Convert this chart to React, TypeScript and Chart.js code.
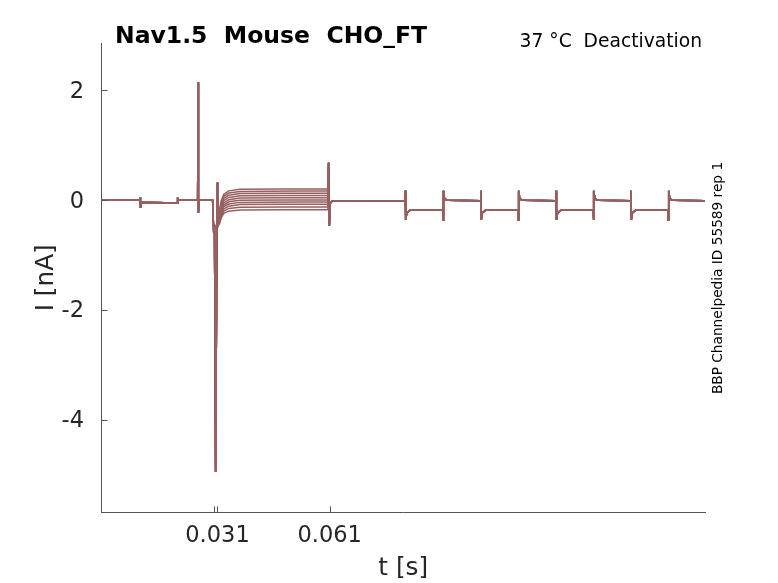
import React, { useEffect, useRef } from 'react';
import Chart from 'chart.js/auto';

// shared by every sweep: holding, prepulse artefacts and the activating step (t in s, I in nA)
const preTimes = [0, 0.0102, 0.0103, 0.0104, 0.0106, 0.0202, 0.0203, 0.0204, 0.0206, 0.0257, 0.0258, 0.0259, 0.0261, 0.0297, 0.03, 0.0302, 0.0305, 0.0308, 0.031, 0.0312];
const preCurrents = [0, 0, 0.05, -0.14, -0.04, -0.05, 0.05, -0.02, 0, 0, 2.15, -0.23, 0, 0, -0.6, -0.45, -4.95, -1.2, 0.32, -0.45];

// deactivation tails, one row per sweep
const tailTimes = [0.0315, 0.032, 0.0327, 0.034, 0.037, 0.0605];
const tailCurrents = [
  [-0.19, -0.01, 0.11, 0.17, 0.2, 0.21],
  [-0.23, -0.05, 0.07, 0.13, 0.16, 0.17],
  [-0.27, -0.09, 0.03, 0.09, 0.12, 0.13],
  [-0.3, -0.13, -0.01, 0.05, 0.08, 0.09],
  [-0.33, -0.16, -0.05, 0.01, 0.04, 0.05],
  [-0.36, -0.2, -0.09, -0.03, 0, 0.01],
  [-0.38, -0.23, -0.12, -0.07, -0.04, -0.03],
  [-0.4, -0.26, -0.16, -0.11, -0.08, -0.07],
  [-0.42, -0.29, -0.2, -0.15, -0.13, -0.12],
  [-0.44, -0.32, -0.24, -0.2, -0.18, -0.17],
];

// shared again: end-of-step artefact and the test pulse train
const postTimes = [
  0.0607, 0.0609, 0.0611, 0.0616, 0.0811,
  0.0812, 0.0813, 0.0816, 0.0825, 0.0912,
  0.0913, 0.0914, 0.0917, 0.0926, 0.1013,
  0.1014, 0.1015, 0.1018, 0.1027, 0.1113,
  0.1114, 0.1115, 0.1118, 0.1127, 0.1214,
  0.1215, 0.1216, 0.1219, 0.1228, 0.1314,
  0.1315, 0.1316, 0.1319, 0.1328, 0.1414,
  0.1415, 0.1416, 0.1419, 0.1428, 0.1514,
  0.1515, 0.1516, 0.1519, 0.1528, 0.1613,
];
const postCurrents = [
  0.68, -0.47, -0.06, -0.02, -0.01,
  0.17, -0.36, -0.23, -0.18, -0.17,
  -0.36, 0.17, 0.02, 0, -0.01,
  0.17, -0.36, -0.23, -0.18, -0.17,
  -0.36, 0.17, 0.02, 0, -0.01,
  0.17, -0.36, -0.23, -0.18, -0.17,
  -0.36, 0.17, 0.02, 0, -0.01,
  0.17, -0.36, -0.23, -0.18, -0.17,
  -0.36, 0.17, 0.02, 0, -0.01,
];

const xTickValues = [0.03, 0.031, 0.061];
const xTickLabels = ['', '0.031', '0.061'];
const yTickValues = [-4, -2, 0, 2];

const TRACE_COLOR = '#976060';
const AXIS_COLOR = '#555555';
const TEXT_COLOR = '#262626';
const FONT = 'DejaVu Sans';

const buildSweep = (tail: number[]) => [
  ...preTimes.map((t, i) => ({ x: t, y: preCurrents[i] })),
  ...tailTimes.map((t, i) => ({ x: t, y: tail[i] })),
  ...postTimes.map((t, i) => ({ x: t, y: postCurrents[i] })),
];

// inward tick marks plus the title texts, matlab style
const decorations = {
  id: 'decorations',
  afterDraw(chart: any) {
    const { ctx, chartArea, scales } = chart;
    ctx.save();
    ctx.strokeStyle = AXIS_COLOR;
    ctx.lineWidth = 1;
    ctx.beginPath();
    xTickValues.forEach((v) => {
      const px = Math.round(scales.x.getPixelForValue(v)) + 0.5;
      ctx.moveTo(px, chartArea.bottom);
      ctx.lineTo(px, chartArea.bottom - 6);
    });
    yTickValues.forEach((v) => {
      const py = Math.round(scales.y.getPixelForValue(v)) + 0.5;
      ctx.moveTo(chartArea.left, py);
      ctx.lineTo(chartArea.left + 6, py);
    });
    ctx.stroke();

    ctx.fillStyle = '#000';
    ctx.textBaseline = 'alphabetic';
    ctx.font = `bold 23.5px "${FONT}"`;
    ctx.textAlign = 'left';
    ctx.fillText('Nav1.5  Mouse  CHO_FT', 115, 42.7);
    ctx.font = `18.7px "${FONT}"`;
    ctx.textAlign = 'right';
    ctx.fillText('37 °C  Deactivation', 702, 47.3);

    ctx.translate(721.5, 278);
    ctx.rotate(-Math.PI / 2);
    ctx.font = `13.7px "${FONT}"`;
    ctx.textAlign = 'center';
    ctx.fillText('BBP Channelpedia ID 55589 rep 1', 0, 0);
    ctx.restore();
  },
};

const App: React.FC = () => {
  const chartRef = useRef<HTMLCanvasElement>(null);

  useEffect(() => {
    if (!chartRef.current) return;
    const ctx = chartRef.current.getContext('2d');
    if (!ctx) return;

    const myChart = new Chart(ctx, {
      type: 'line',
      data: {
        datasets: tailCurrents.map((tail, i) => ({
          label: `sweep ${i + 1}`,
          data: buildSweep(tail),
          borderColor: TRACE_COLOR,
          borderWidth: 1.5,
          pointRadius: 0,
          tension: 0,
          fill: false,
        })),
      },
      options: {
        animation: false,
        responsive: false,
        layout: { padding: { top: 43.3, right: 73, left: 0, bottom: 0 } },
        plugins: {
          legend: { display: false },
          tooltip: { enabled: false },
        },
        scales: {
          x: {
            type: 'linear',
            min: 0,
            max: 0.1613,
            afterBuildTicks: (scale: any) => {
              scale.ticks = xTickValues.map((v) => ({ value: v }));
            },
            afterFit: (scale: any) => {
              scale.height = 70.7;
            },
            grid: { display: false, drawTicks: false },
            border: { display: true, color: AXIS_COLOR, width: 1 },
            ticks: {
              autoSkip: false,
              maxRotation: 0,
              padding: 10,
              color: TEXT_COLOR,
              font: { family: FONT, size: 22.5 },
              callback: (_v: any, i: number) => xTickLabels[i],
            },
            title: {
              display: true,
              text: 't [s]',
              color: TEXT_COLOR,
              font: { family: FONT, size: 24.75 },
              padding: 0,
            },
          },
          y: {
            type: 'linear',
            min: -5.69,
            max: 2.86,
            afterBuildTicks: (scale: any) => {
              scale.ticks = yTickValues.map((v) => ({ value: v }));
            },
            afterFit: (scale: any) => {
              scale.width = 101.5;
            },
            grid: { display: false, drawTicks: false },
            border: { display: true, color: AXIS_COLOR, width: 1 },
            ticks: {
              padding: 17.5,
              labelOffset: 1.5,
              color: TEXT_COLOR,
              font: { family: FONT, size: 22.5 },
            },
            title: {
              display: true,
              text: 'I [nA]',
              color: TEXT_COLOR,
              font: { family: FONT, size: 24.75 },
              padding: 31.6,
            },
          },
        },
      },
      plugins: [decorations],
    });

    return () => {
      myChart.destroy();
    };
  }, []);

  return (
    <div style={{ position: 'absolute', left: 0, top: 0, background: '#fff' }}>
      <canvas ref={chartRef} width={778} height={583}></canvas>
    </div>
  );
};

export default App;
